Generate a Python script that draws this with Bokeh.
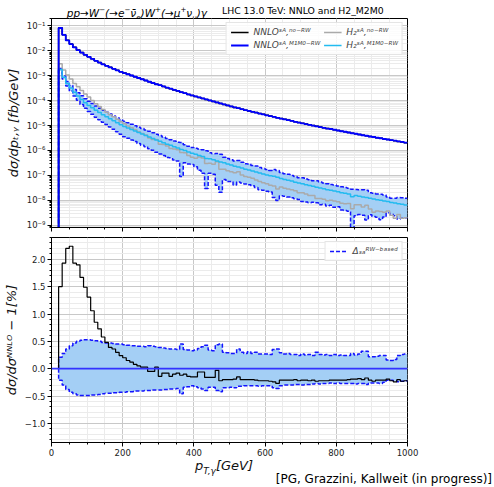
import numpy as np
from bokeh.plotting import figure
from bokeh.layouts import column
from bokeh.models import (Range1d, FixedTicker, CustomJSTickFormatter, Div,
                          Legend, LegendItem, Span)
from bokeh.embed import file_html
from bokeh.resources import INLINE

FONT = "DejaVu Sans"

# ---------------- data ----------------
pt_edges = list(range(20, 1001, 10))          # GeV, 98 bins -> 99 edges

# NNLO (SA, M1M0-RW) distribution, log10 of fb/GeV per bin
nnlo_m1m0_log10 = [
    -1.08, -1.36, -1.58, -1.73, -1.86, -1.97, -2.07, -2.16, -2.24, -2.32,
    -2.40, -2.47, -2.54, -2.60, -2.66, -2.72, -2.78, -2.84, -2.89, -2.94,
    -2.99, -3.04, -3.09, -3.14, -3.19, -3.24, -3.29, -3.34, -3.38, -3.43,
    -3.48, -3.52, -3.57, -3.61, -3.66, -3.70, -3.75, -3.79, -3.83, -3.87,
    -3.91, -3.95, -3.99, -4.03, -4.07, -4.11, -4.15, -4.19, -4.23, -4.27,
    -4.30, -4.34, -4.38, -4.41, -4.45, -4.48, -4.52, -4.55, -4.59, -4.62,
    -4.65, -4.69, -4.72, -4.75, -4.78, -4.81, -4.85, -4.88, -4.91, -4.94,
    -4.97, -5.00, -5.03, -5.06, -5.09, -5.12, -5.14, -5.17, -5.20, -5.23,
    -5.25, -5.28, -5.31, -5.33, -5.36, -5.39, -5.41, -5.44, -5.46, -5.49,
    -5.51, -5.54, -5.56, -5.59, -5.61, -5.64, -5.66, -5.69]

# H2 (SA, M1M0-RW) coefficient, log10 of fb/GeV per bin
h2_m1m0_log10 = [
    -2.75, -3.06, -3.31, -3.49, -3.66, -3.81, -3.95, -4.08, -4.19, -4.29,
    -4.39, -4.48, -4.57, -4.65, -4.73, -4.81, -4.89, -4.97, -5.04, -5.10,
    -5.16, -5.22, -5.28, -5.34, -5.40, -5.46, -5.52, -5.58, -5.63, -5.69,
    -5.75, -5.79, -5.85, -5.90, -5.96, -6.00, -6.06, -6.11, -6.15, -6.20,
    -6.24, -6.32, -6.33, -6.37, -6.42, -6.46, -6.50, -6.55, -6.59, -6.64,
    -6.67, -6.71, -6.76, -6.79, -6.83, -6.87, -6.91, -6.95, -6.99, -7.02,
    -7.04, -7.08, -7.13, -7.17, -7.20, -7.23, -7.28, -7.31, -7.34, -7.38,
    -7.41, -7.44, -7.48, -7.51, -7.54, -7.58, -7.60, -7.63, -7.66, -7.70,
    -7.72, -7.75, -7.86, -7.81, -7.84, -7.87, -7.89, -7.92, -7.95, -7.98,
    -8.00, -8.03, -8.05, -8.09, -8.11, -8.14, -8.16, -8.19]

# NNLO(no-RW) / NNLO(M1M0-RW) - 1  in %
ratio_norw_pct = [
    1.50, 1.93, 2.20, 2.24, 1.93, 1.90, 1.67, 1.49, 1.31, 1.06,
    0.85, 0.73, 0.58, 0.48, 0.39, 0.36, 0.30, 0.24, 0.20, 0.15,
    0.12, 0.08, 0.05, 0.03, 0.03, -0.05, -0.05, 0.03, -0.14, -0.08,
    -0.08, -0.14, -0.10, -0.08, -0.12, -0.10, -0.14, -0.15, -0.15, -0.06,
    -0.06, -0.16, -0.16, -0.16, -0.03, -0.22, -0.20, -0.20, -0.20, -0.19,
    -0.15, -0.20, -0.20, -0.20, -0.20, -0.21, -0.22, -0.22, -0.22, -0.23,
    -0.24, -0.27, -0.21, -0.21, -0.21, -0.21, -0.20, -0.22, -0.21, -0.21,
    -0.22, -0.21, -0.23, -0.22, -0.22, -0.22, -0.21, -0.21, -0.21, -0.21,
    -0.21, -0.20, -0.19, -0.19, -0.18, -0.20, -0.17, -0.21, -0.23, -0.21,
    -0.21, -0.21, -0.19, -0.22, -0.24, -0.20, -0.23, -0.22]

# Delta_SA^{RW-based} band, upper / lower edge in % of NNLO
band_hi_pct = [
    0.21, 0.28, 0.36, 0.42, 0.47, 0.50, 0.52, 0.53, 0.53, 0.52,
    0.51, 0.50, 0.48, 0.47, 0.47, 0.46, 0.45, 0.45, 0.44, 0.43,
    0.42, 0.42, 0.41, 0.41, 0.40, 0.42, 0.41, 0.40, 0.39, 0.38,
    0.37, 0.36, 0.36, 0.35, 0.45, 0.35, 0.34, 0.33, 0.34, 0.37,
    0.40, 0.43, 0.34, 0.33, 0.44, 0.45, 0.30, 0.29, 0.28, 0.28,
    0.36, 0.30, 0.28, 0.31, 0.28, 0.30, 0.27, 0.27, 0.27, 0.26,
    0.35, 0.36, 0.29, 0.27, 0.28, 0.26, 0.26, 0.24, 0.27, 0.25,
    0.26, 0.24, 0.30, 0.26, 0.25, 0.26, 0.24, 0.26, 0.24, 0.25,
    0.24, 0.24, 0.28, 0.25, 0.27, 0.32, 0.32, 0.22, 0.22, 0.23,
    0.24, 0.24, 0.16, 0.15, 0.17, 0.24, 0.26, 0.27]
band_lo_pct = [
    -0.21, -0.30, -0.38, -0.43, -0.46, -0.48, -0.49, -0.49, -0.49, -0.48,
    -0.48, -0.47, -0.46, -0.45, -0.45, -0.44, -0.44, -0.43, -0.43, -0.42,
    -0.42, -0.41, -0.41, -0.41, -0.40, -0.40, -0.39, -0.39, -0.39, -0.38,
    -0.38, -0.37, -0.37, -0.36, -0.46, -0.34, -0.33, -0.31, -0.33, -0.35,
    -0.37, -0.40, -0.34, -0.34, -0.40, -0.42, -0.35, -0.35, -0.34, -0.35,
    -0.32, -0.32, -0.31, -0.31, -0.31, -0.31, -0.32, -0.31, -0.31, -0.31,
    -0.35, -0.36, -0.31, -0.30, -0.30, -0.30, -0.29, -0.29, -0.30, -0.29,
    -0.29, -0.28, -0.27, -0.28, -0.27, -0.27, -0.26, -0.27, -0.26, -0.27,
    -0.27, -0.27, -0.27, -0.28, -0.27, -0.27, -0.29, -0.26, -0.26, -0.26,
    -0.27, -0.25, -0.21, -0.21, -0.22, -0.24, -0.23, -0.22]

x_major = [0, 200, 400, 600, 800, 1000]
x_minor = list(range(0, 1001, 50))
y1_major = [1e-9, 1e-8, 1e-7, 1e-6, 1e-5, 1e-4, 1e-3, 1e-2, 1e-1]
y2_major = [-1.0, -0.5, 0.0, 0.5, 1.0, 1.5, 2.0]

# ---------------- derived series ----------------
nnlo_m1m0 = 10.0 ** np.array(nnlo_m1m0_log10)
h2_m1m0 = 10.0 ** np.array(h2_m1m0_log10)
r_pct = np.array(ratio_norw_pct)
nnlo_norw = nnlo_m1m0 * (1 + r_pct / 100)
h2_norw = np.clip(h2_m1m0 + r_pct / 100 * nnlo_m1m0, 1e-14, None)
top_hi = h2_m1m0 + np.array(band_hi_pct) / 100 * nnlo_m1m0
top_lo = np.clip(h2_m1m0 + np.array(band_lo_pct) / 100 * nnlo_m1m0, 1e-14, None)

FLOOR = 1e-14
W = 492
FL, FW = 51, 356


def step_xy(vals, floor):
    v = list(vals)
    return [pt_edges[0]] + pt_edges, [floor] + v + [v[-1]]


def area_y(vals):
    v = list(vals)
    return v + [v[-1]]


C_BLUE = "#0000ff"
C_LBLUE = "#22bbf0"
C_GRAY = "#aaaaaa"
C_FILL = "#a4cff5"
C_DASH = "#1414ff"


def style(p):
    p.outline_line_color = "black"
    p.outline_line_width = 1
    p.outline_line_alpha = 1
    for ax in (p.xaxis, p.yaxis):
        ax.axis_line_color = "black"
        ax.major_tick_out = 4
        ax.major_tick_in = 0
        ax.minor_tick_out = 2
        ax.minor_tick_in = 0
        ax.major_label_text_font = FONT
        ax.major_label_text_font_size = "8.5px"
        ax.major_label_text_color = "#222222"
        ax.axis_label_text_font = FONT
        ax.axis_label_text_font_size = "13px"
        ax.axis_label_text_font_style = "italic"
        ax.axis_label_text_color = "#111111"
    p.xgrid.grid_line_color = "#c8c8c8"
    p.ygrid.grid_line_color = "#c8c8c8"
    p.xgrid.minor_grid_line_color = "#ebebeb"
    p.ygrid.minor_grid_line_color = "#ebebeb"
    p.background_fill_color = "white"
    p.border_fill_color = "white"


SUP = 'style="font-size:7px"'

# ---------------- title row (HTML) ----------------
title_html = (
    '<div style="position:relative;width:492px;height:18px;'
    'font-family:\'DejaVu Sans\';color:#000;white-space:nowrap;">'
    '<span style="position:absolute;right:285px;top:4px;line-height:12px;'
    'font-size:10.5px;font-style:italic;">'
    f'pp→W<sup {SUP}>−</sup>(→e<sup {SUP}>−</sup>ν̄<sub {SUP}>e</sub>)'
    f'W<sup {SUP}>+</sup>(→μ<sup {SUP}>+</sup>ν<sub {SUP}>μ</sub>)γ</span>'
    '<span style="position:absolute;left:222px;top:5px;line-height:12px;font-size:9.3px;">'
    'LHC 13.0 TeV: NNLO and H2_M2M0</span></div>')
p0 = Div(text=title_html, width=W, height=18, margin=0)

# ---------------- top panel ----------------
p1 = figure(frame_width=FW, frame_height=209, y_axis_type="log",
            x_range=Range1d(0, 1000), y_range=Range1d(8e-10, 0.2),
            output_backend="svg", toolbar_location=None,
            min_border_left=FL, min_border_right=W - FL - FW, min_border_top=0,
            min_border_bottom=5)
style(p1)
p1.xaxis.ticker = FixedTicker(ticks=x_major, minor_ticks=x_minor)
p1.xaxis.formatter = CustomJSTickFormatter(code="return '';")
p1.xaxis.major_label_standoff = 0
minor_log = [m * 10.0 ** e for e in range(-10, 0) for m in range(2, 10)]
p1.yaxis.ticker = FixedTicker(ticks=y1_major, minor_ticks=minor_log)
p1.yaxis.formatter = CustomJSTickFormatter(code="""
const e = Math.round(Math.log10(tick));
const sup = {'-':'\u207b','0':'\u2070','1':'\u00b9','2':'\u00b2','3':'\u00b3','4':'\u2074','5':'\u2075','6':'\u2076','7':'\u2077','8':'\u2078','9':'\u2079'};
return '10' + String(e).split('').map(c => sup[c]).join('');
""")
p1.yaxis.major_label_standoff = 2
p1.yaxis.axis_label = "dσ/dpₜ,ᵧ [fb/GeV]"
p1.yaxis.axis_label_standoff = 3

xs, lo_ys = step_xy(top_lo, FLOOR)
_, hi_ys = step_xy(top_hi, FLOOR)
p1.varea_step(x=pt_edges, y1=area_y(top_lo), y2=area_y(top_hi), step_mode="after",
              fill_color=C_FILL, fill_alpha=1.0)
p1.step(xs, lo_ys, mode="after", line_color=C_DASH, line_width=1.5, line_dash="4 2")
p1.step(xs, hi_ys, mode="after", line_color=C_DASH, line_width=1.5, line_dash="4 2")
xg, yg = step_xy(h2_norw, FLOOR)
r_gray = p1.step(xg, yg, mode="after", line_color=C_GRAY, line_width=1.5)
xl, yl = step_xy(h2_m1m0, FLOOR)
r_lblue = p1.step(xl, yl, mode="after", line_color=C_LBLUE, line_width=1.5)
xb, yb = step_xy(nnlo_norw, FLOOR)
r_black = p1.step(xb, yb, mode="after", line_color="black", line_width=1.5)
xn, yn = step_xy(nnlo_m1m0, FLOOR)
r_blue = p1.step(xn, yn, mode="after", line_color=C_BLUE, line_width=1.8)

leg1 = Legend(items=[
    LegendItem(label="NNLOˢᴬ,ⁿᵒ⁻ᴿᵂ", renderers=[r_black]),
    LegendItem(label="NNLOˢᴬ,ᴹ¹ᴹ⁰⁻ᴿᵂ", renderers=[r_blue]),
    LegendItem(label="H₂ˢᴬ,ⁿᵒ⁻ᴿᵂ", renderers=[r_gray]),
    LegendItem(label="H₂ˢᴬ,ᴹ¹ᴹ⁰⁻ᴿᵂ", renderers=[r_lblue]),
], location="top_right", nrows=2)
leg1.label_text_font = FONT
leg1.label_text_font_size = "9px"
leg1.label_text_font_style = "italic"
leg1.glyph_width = 18
leg1.glyph_height = 10
leg1.label_standoff = 5
leg1.spacing = 3
leg1.padding = 4
leg1.margin = 4
leg1.border_line_color = "#cccccc"
leg1.background_fill_alpha = 0.85
p1.add_layout(leg1)

# ---------------- bottom panel ----------------
p2 = figure(frame_width=FW, frame_height=205,
            x_range=Range1d(0, 1000), y_range=Range1d(-1.35, 2.4),
            output_backend="svg", toolbar_location=None,
            min_border_left=FL, min_border_right=W - FL - FW, min_border_top=5,
            min_border_bottom=17)
style(p2)
p2.xaxis.ticker = FixedTicker(ticks=x_major, minor_ticks=x_minor)
p2.yaxis.ticker = FixedTicker(ticks=y2_major,
                              minor_ticks=[round(-1.3 + 0.1 * i, 2) for i in range(38)])
p2.yaxis.formatter = CustomJSTickFormatter(code="""
return (tick < 0 ? '\u2212' : '') + Math.abs(tick).toFixed(1);
""")
p2.yaxis.major_label_standoff = 2
p2.yaxis.axis_label = "dσ/dσᴺᴺᴸᴼ − 1[%]"
p2.yaxis.axis_label_standoff = 3
p2.xaxis.major_label_standoff = 2

bxs, blo = step_xy(band_lo_pct, 0.0)
_, bhi = step_xy(band_hi_pct, 0.0)
p2.varea_step(x=pt_edges, y1=area_y(band_lo_pct), y2=area_y(band_hi_pct),
              step_mode="after", fill_color=C_FILL, fill_alpha=1.0)
r_band = p2.step(bxs, bhi, mode="after", line_color=C_DASH, line_width=1.5, line_dash="4 2")
p2.step(bxs, blo, mode="after", line_color=C_DASH, line_width=1.5, line_dash="4 2")
rx, ry = step_xy(ratio_norw_pct, 0.0)
p2.step(rx, ry, mode="after", line_color="black", line_width=1.2)
p2.add_layout(Span(location=0, dimension="width", line_color="#3333ff", line_width=1.8))

leg2 = Legend(items=[LegendItem(label="Δₛₐᴿᵂ⁻ᵇᵃˢᵉᵈ", renderers=[r_band])],
              location="top_right")
leg2.label_text_font = FONT
leg2.label_text_font_size = "9px"
leg2.label_text_font_style = "italic"
leg2.glyph_width = 18
leg2.glyph_height = 10
leg2.label_standoff = 5
leg2.padding = 4
leg2.margin = 4
leg2.border_line_color = "#cccccc"
leg2.background_fill_alpha = 0.85
p2.add_layout(leg2)

# ---------------- x-axis title + credit row (HTML) ----------------
foot_html = (
    '<div style="position:relative;width:492px;height:26px;white-space:nowrap;'
    'font-family:\'DejaVu Sans\';color:#000;">'
    '<span style="position:absolute;left:224px;top:0px;transform:translateX(-50%);'
    'font-size:13px;line-height:14px;font-style:italic;color:#111;">'
    'p<sub style="font-size:9px">T,γ</sub>[GeV]</span>'
    '<span style="position:absolute;right:0px;top:15px;font-size:12px;line-height:11px;">'
    '[PG, Grazzini, Kallweit (in progress)]</span></div>')
p3 = Div(text=foot_html, width=W, height=26, margin=0)

layout = column(p0, p1, p2, p3, spacing=0)
open("out.html", "w").write(file_html(layout, INLINE))
